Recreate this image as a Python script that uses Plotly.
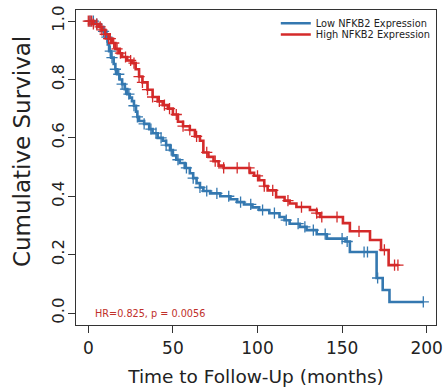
import numpy as np
import plotly.graph_objects as go

# ---- data ----
low_times = [0, 4, 7, 9, 10.5, 11.5, 12.3, 13.5, 15, 16, 17, 18.5, 20, 21.5, 23, 24.5, 25.8, 27, 28.2, 29, 30,
             33, 36, 38, 41, 44, 46, 48.3, 50, 52, 54, 57, 60, 62, 64, 66, 68, 72, 78, 84, 88, 92, 97, 101,
             107, 113, 116, 119, 125, 129, 135, 141, 152, 154.6, 170.4, 174, 178]
low_surv = [1.0, 0.99, 0.98, 0.965, 0.945, 0.92, 0.897, 0.875, 0.853, 0.835, 0.818, 0.80, 0.784, 0.767, 0.75,
            0.738, 0.726, 0.71, 0.69, 0.672, 0.658, 0.648, 0.63, 0.616, 0.60, 0.59, 0.575, 0.558, 0.54, 0.525,
            0.514, 0.497, 0.479, 0.462, 0.445, 0.43, 0.418, 0.41, 0.40, 0.39, 0.38, 0.372, 0.362, 0.353,
            0.342, 0.329, 0.318, 0.306, 0.295, 0.284, 0.27, 0.255, 0.245, 0.209, 0.12, 0.079, 0.038]
low_end = 198
low_censor = [1, 3, 5, 9, 11, 13, 14, 16, 18, 20, 22, 24, 27, 29, 33, 37, 40, 43, 46, 49, 53, 58, 62, 66, 70,
              76, 83, 90, 96, 103, 110, 117, 124, 128, 133, 140, 150, 153, 163, 165, 171, 198]

high_times = [0, 3, 6, 8, 10, 12, 14, 16, 18, 20, 23, 26, 28, 30, 32, 35, 38, 41, 44, 47, 50, 53, 56, 60, 63,
              66, 68, 71, 74, 77, 80, 95.5, 98, 101, 104, 106, 111, 116, 119, 123, 131, 135, 137, 150.5, 154.6,
              166.5, 173, 177.5]
high_surv = [1.0, 0.99, 0.98, 0.97, 0.955, 0.94, 0.925, 0.905, 0.89, 0.877, 0.865, 0.856, 0.835, 0.81, 0.79,
             0.765, 0.74, 0.725, 0.712, 0.70, 0.68, 0.655, 0.64, 0.627, 0.605, 0.59, 0.55, 0.535, 0.52, 0.505,
             0.497, 0.48, 0.47, 0.455, 0.435, 0.42, 0.397, 0.385, 0.375, 0.363, 0.353, 0.342, 0.329, 0.308,
             0.28, 0.25, 0.216, 0.164]
high_end = 183
high_censor = [0, 1, 2, 3, 5, 7, 8, 10, 12, 13, 15, 17, 19, 22, 25, 27, 30, 32, 35, 38, 42, 45, 48, 52, 56, 60,
               64, 70, 75, 80, 88, 95, 100, 104, 109, 118, 126, 135, 138, 147, 160, 175, 181, 183]

hr_text = "HR=0.825, p = 0.0056"

BLUE = "#3478b0"
RED = "#d42a2a"


def step_value(times, surv, t):
    idx = np.searchsorted(np.asarray(times), np.asarray(t, dtype=float), side="right") - 1
    return np.asarray(surv)[idx]


fig = go.Figure()
for name, times, surv, end, cens, col, leg in [
    ("Low NFKB2 Expression", low_times, low_surv, low_end, low_censor, BLUE, "legend"),
    ("High NFKB2 Expression", high_times, high_surv, high_end, high_censor, RED, "legend2"),
]:
    xs = list(times) + [end]
    ys = list(surv) + [surv[-1]]
    fig.add_trace(go.Scatter(x=xs, y=ys, mode="lines", line=dict(color=col, width=2.6, shape="hv"),
                             name=name, hoverinfo="skip", legend=leg))
    fig.add_trace(go.Scatter(x=cens, y=step_value(times, surv, cens), mode="markers", showlegend=False,
                             marker=dict(symbol="cross-thin", size=8, line=dict(color=col, width=1.3)),
                             hoverinfo="skip"))

fig.add_annotation(x=2.8, y=-0.003, xref="x", yref="y", text=hr_text, showarrow=False, xanchor="left",
                   yanchor="middle", font=dict(size=9.7, color="#c0302a"))
# y-axis title placed as a rotated annotation
fig.add_annotation(x=-0.15, y=0.549, xref="paper", yref="paper", text="Cumulative Survival", textangle=-90,
                   showarrow=False, xanchor="center", yanchor="middle", font=dict(size=23, color="#222222"))

axis_common = dict(showline=True, mirror=True, linecolor="#333333", linewidth=1.2, ticks="outside",
                   tickcolor="#333333", ticklen=7, tickwidth=1.1, showgrid=False, zeroline=False)
fig.update_xaxes(range=[-7.27, 205.5], tickvals=[0, 50, 100, 150, 200],
                 tickfont=dict(size=17, color="#222222"),
                 title=dict(text="Time to Follow-Up (months)", font=dict(size=18.5, color="#222222"), standoff=13),
                 **axis_common)
fig.update_yaxes(range=[-0.041, 1.038], tickvals=[0, 0.2, 0.4, 0.6, 0.8, 1.0],
                 ticktext=["0.0", "0.2", "0.4", "0.6", "0.8", "1.0"],
                 tickangle=-90, ticklabelstandoff=-3, tickfont=dict(size=16.5, color="#222222"),
                 **axis_common)

legend_common = dict(xanchor="left", yanchor="middle", font=dict(size=9.8, color="#222222"),
                     bgcolor="rgba(255,255,255,0)", itemwidth=30)
fig.update_layout(
    width=446, height=392,
    margin=dict(l=76, r=10, t=10, b=67, autoexpand=False),
    paper_bgcolor="white", plot_bgcolor="white",
    font=dict(family="DejaVu Sans"),
    legend=dict(x=0.555, y=0.958, **legend_common),
    legend2=dict(x=0.555, y=0.922, **legend_common),
)
fig.write_html("out.html", config={"displayModeBar": False},
               post_script="document.body.style.margin='0';document.body.style.overflow='hidden';")
